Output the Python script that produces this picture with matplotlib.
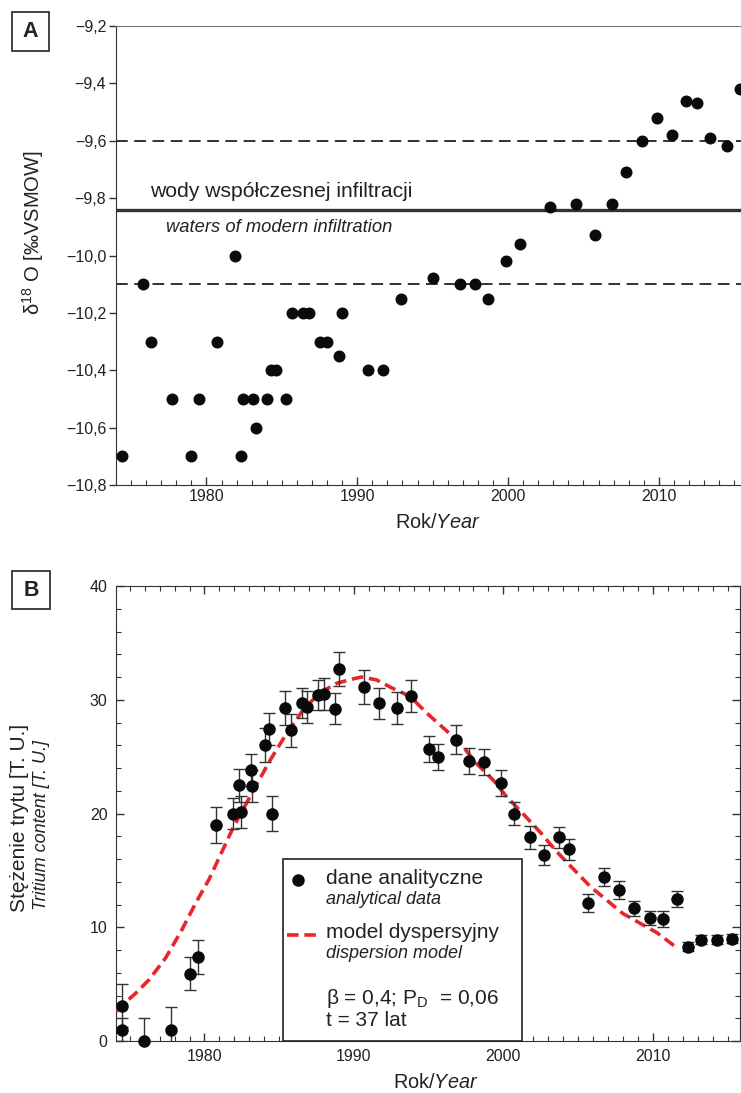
import matplotlib
matplotlib.use("Agg")
import matplotlib.pyplot as plt
from matplotlib.ticker import MultipleLocator, FuncFormatter
from matplotlib.patches import Rectangle
from matplotlib.lines import Line2D

plt.rcParams['font.family'] = ['Liberation Sans', 'DejaVu Sans']
plt.rcParams['mathtext.fontset'] = 'custom'
plt.rcParams['mathtext.rm'] = 'Liberation Sans'
plt.rcParams['mathtext.it'] = 'Liberation Sans:italic'
plt.rcParams['mathtext.bf'] = 'Liberation Sans:bold'

# ---------------- data: panel A (delta 18O) ----------------
a_years = [1974.4, 1975.8, 1976.3, 1977.7, 1979.0, 1979.5, 1980.7, 1981.9, 1982.3, 1982.4,
           1983.1, 1983.3, 1984.0, 1984.3, 1984.6, 1985.3, 1985.7, 1986.4, 1986.8, 1987.5,
           1988.0, 1988.8, 1989.0, 1990.7, 1991.7, 1992.9, 1995.0, 1996.8, 1997.8, 1998.7,
           1999.85, 2000.8, 2002.8, 2004.5, 2005.8, 2006.9, 2007.8, 2008.9, 2009.9, 2010.9,
           2011.8, 2012.5, 2013.4, 2014.5, 2015.4]
a_d18o = [-10.70, -10.10, -10.30, -10.50, -10.70, -10.50, -10.30, -10.00, -10.70, -10.50,
          -10.50, -10.60, -10.50, -10.40, -10.40, -10.50, -10.20, -10.20, -10.20, -10.30,
          -10.30, -10.35, -10.20, -10.40, -10.40, -10.15, -10.08, -10.10, -10.10, -10.15,
          -10.02, -9.96, -9.83, -9.82, -9.93, -9.82, -9.71, -9.60, -9.52, -9.58,
          -9.46, -9.47, -9.59, -9.62, -9.42]
a_band_upper = -9.6
a_modern = -9.84
a_band_lower = -10.1
a_yticks = [-10.8, -10.6, -10.4, -10.2, -10.0, -9.8, -9.6, -9.4, -9.2]

# ---------------- data: panel B (tritium) ----------------
b_years = [1974.45, 1974.45, 1975.95, 1977.75, 1979.0, 1979.55, 1980.75, 1981.9, 1982.3, 1982.45,
           1983.1, 1983.2, 1984.05, 1984.35, 1984.55, 1985.4, 1985.8, 1986.5, 1986.85, 1987.6,
           1988.0, 1988.75, 1989.0, 1990.65, 1991.7, 1992.9, 1993.85, 1995.0, 1995.65, 1996.8,
           1997.7, 1998.7, 1999.85, 2000.7, 2001.75, 2002.75, 2003.75, 2004.4, 2005.65, 2006.75,
           2007.75, 2008.75, 2009.8, 2010.7, 2011.65, 2012.35, 2013.2, 2014.3, 2015.3]
b_tritium = [3.1, 1.0, 0.0, 1.0, 5.9, 7.4, 19.0, 20.0, 22.5, 20.1,
             23.8, 22.4, 26.0, 27.4, 20.0, 29.3, 27.3, 29.7, 29.4, 30.4,
             30.5, 29.2, 32.7, 31.1, 29.7, 29.3, 30.3, 25.7, 25.0, 26.5,
             24.6, 24.5, 22.7, 20.0, 17.9, 16.35, 17.9, 16.85, 12.15, 14.45,
             13.3, 11.65, 10.8, 10.75, 12.5, 8.3, 8.9, 8.9, 9.0]
b_err = [1.9, 1.0, 2.0, 2.0, 1.45, 1.5, 1.6, 1.4, 1.45, 1.4,
         1.4, 1.4, 1.5, 1.4, 1.5, 1.5, 1.45, 1.3, 1.4, 1.3,
         1.4, 1.35, 1.5, 1.5, 1.35, 1.4, 1.4, 1.15, 1.15, 1.3,
         1.15, 1.15, 1.15, 1.0, 1.0, 0.9, 0.9, 0.9, 0.8, 0.8,
         0.8, 0.7, 0.6, 0.7, 0.7, 0.4, 0.4, 0.4, 0.4]
model_years = [1974.1, 1974.5, 1975.4, 1976.3, 1977.4, 1978.5, 1979.4, 1980.3, 1981.9, 1983.3,
               1984.4, 1985.5, 1986.6, 1987.7, 1988.85, 1990.0, 1990.5, 1991.5, 1992.6, 1993.75,
               1994.9, 1996.0, 1997.1, 1998.2, 1999.35, 2000.2, 2001.3, 2002.5, 2003.6, 2005.8,
               2008.0, 2010.3, 2011.5]
model_tritium = [2.6, 3.15, 4.2, 5.4, 7.3, 9.8, 12.1, 14.2, 18.7, 22.1,
                 24.7, 27.05, 29.1, 30.6, 31.45, 31.85, 32.0, 31.75, 31.0, 30.3,
                 28.8, 27.5, 26.2, 24.4, 22.9, 21.5, 20.0, 18.3, 16.6, 13.6,
                 11.2, 9.5, 8.3]

W, H, DPI = 741, 1093, 100
fig = plt.figure(figsize=(W / DPI, H / DPI), dpi=DPI)


def fx(x):
    return x / W


def fy(y):
    return 1 - y / H


def comma_fmt(v, pos):
    s = f'{v:.1f}'.replace('.', ',')
    return s.replace('-', '\u2212')


DARK = '#222222'
RED = '#e8262b'
TICK_FS = 11.5

# ======================= Panel A =======================
axA = fig.add_axes([fx(116), fy(485), fx(741) - fx(116), fy(26) - fy(485)])
axA.set_xlim(1974.0, 2015.45)
axA.set_ylim(-10.8, -9.2)
axA.axhline(a_band_upper, color=DARK, lw=1.3, dashes=(6.5, 3.6))
axA.axhline(a_band_lower, color=DARK, lw=1.3, dashes=(6.5, 3.6))
axA.axhline(a_modern, color='#333333', lw=2.4)
axA.plot(a_years, a_d18o, 'o', color='#0a0a0a', ms=7.6, mec='#0a0a0a', clip_on=False, zorder=5)

axA.spines['right'].set_visible(False)
axA.spines['top'].set_color('#777777')
axA.spines['left'].set_color('#333333')
axA.spines['bottom'].set_color('#333333')
axA.xaxis.set_major_locator(MultipleLocator(10))
axA.xaxis.set_minor_locator(MultipleLocator(1))
axA.set_yticks(a_yticks)
axA.yaxis.set_major_formatter(FuncFormatter(comma_fmt))
axA.tick_params(axis='x', which='major', direction='in', length=6, width=1, pad=3,
                labelsize=TICK_FS, colors='#333333', top=False)
axA.tick_params(axis='x', which='minor', direction='in', length=3.5, width=0.8,
                colors='#333333', top=False)
axA.tick_params(axis='y', which='major', direction='out', length=5, width=1, pad=2,
                labelsize=TICK_FS, colors='#333333')
for lab in axA.get_xticklabels() + axA.get_yticklabels():
    lab.set_color('#222222')

fig.text(fx(150), fy(197), 'wody współczesnej infiltracji', fontsize=15.2,
         color='#222222', ha='left', va='baseline')
fig.text(fx(166), fy(232), 'waters of modern infiltration', fontsize=13.2,
         style='italic', color='#222222', ha='left', va='baseline')
fig.text(fx(33), fy(233), 'δ$^{18}$ O [‰VSMOW]', rotation=90, fontsize=14.5,
         color='#222222', ha='center', va='center')
fig.text(fx(438), fy(523), r'Rok/$\mathit{Year}$', fontsize=14.3, color='#222222',
         ha='center', va='center')

# panel letter A
fig.add_artist(Rectangle((fx(12), fy(51)), fx(49) - fx(12), fy(12) - fy(51),
                         transform=fig.transFigure, fill=False, lw=1.3, ec='#333333'))
fig.text(fx(30.5), fy(31.5), 'A', fontsize=15.5, fontweight='bold', color='#222222',
         ha='center', va='center')

# ======================= Panel B =======================
axB = fig.add_axes([fx(116), fy(1041), fx(739.5) - fx(116), fy(586) - fy(1041)])
axB.set_xlim(1974.08, 2015.8)
axB.set_ylim(0, 40)
axB.plot(model_years, model_tritium, color=RED, lw=2.6, dashes=(3.2, 1.6),
         dash_capstyle='butt', zorder=3)
axB.errorbar(b_years, b_tritium, yerr=b_err, fmt='none', ecolor='#333333',
             elinewidth=1.0, capsize=4.3, capthick=1.0, zorder=4)
axB.plot(b_years, b_tritium, 'o', color='#0a0a0a', ms=8, mec='#0a0a0a',
         clip_on=False, zorder=6)

for sp in axB.spines.values():
    sp.set_color('#333333')
axB.xaxis.set_major_locator(MultipleLocator(10))
axB.xaxis.set_minor_locator(MultipleLocator(1))
axB.yaxis.set_major_locator(MultipleLocator(10))
axB.yaxis.set_minor_locator(MultipleLocator(2))
axB.tick_params(axis='both', which='major', direction='in', length=6, width=1,
                labelsize=TICK_FS, colors='#333333', top=True, right=True)
axB.tick_params(axis='both', which='minor', direction='in', length=3.5, width=0.8,
                colors='#333333', top=True, right=True)
axB.tick_params(axis='x', which='major', pad=6)
axB.tick_params(axis='y', which='major', pad=6)
for lab in axB.get_xticklabels() + axB.get_yticklabels():
    lab.set_color('#222222')

fig.text(fx(20), fy(818), 'Stężenie trytu [T. U.]', rotation=90, fontsize=15,
         color='#222222', ha='center', va='center')
fig.text(fx(42), fy(825), 'Tritium content [T. U.]', rotation=90, fontsize=13,
         style='italic', color='#222222', ha='center', va='center')
fig.text(fx(436), fy(1082), r'Rok/$\mathit{Year}$', fontsize=14.3, color='#222222',
         ha='center', va='center')

# panel letter B
fig.add_artist(Rectangle((fx(12), fy(609)), fx(50) - fx(12), fy(571) - fy(609),
                         transform=fig.transFigure, fill=False, lw=1.3, ec='#333333'))
fig.text(fx(31), fy(590), 'B', fontsize=15.5, fontweight='bold', color='#222222',
         ha='center', va='center')

# legend box (panel B)
fig.add_artist(Rectangle((fx(283), fy(1041)), fx(522) - fx(283), fy(859) - fy(1041),
                         transform=fig.transFigure, facecolor='white', lw=1.2,
                         ec='#222222', zorder=10))
fig.add_artist(Line2D([fx(298)], [fy(880)], marker='o', ms=8, color='#0a0a0a',
                      transform=fig.transFigure, zorder=11))
fig.add_artist(Line2D([fx(287), fx(316)], [fy(935), fy(935)], color=RED, lw=2.6,
                      dashes=(3.2, 1.6), transform=fig.transFigure, zorder=11))
tx = fx(326)
fig.text(tx, fy(878), 'dane analityczne', fontsize=15, color='#222222', va='center', zorder=12)
fig.text(tx, fy(900), 'analytical data', fontsize=13, style='italic', color='#222222',
         va='center', zorder=12)
fig.text(tx, fy(932), 'model dyspersyjny', fontsize=15, color='#222222', va='center', zorder=12)
fig.text(tx, fy(954), 'dispersion model', fontsize=13, style='italic', color='#222222',
         va='center', zorder=12)
fig.text(tx, fy(998), r'β = 0,4; P$_{\mathrm{D}}$  = 0,06', fontsize=15, color='#222222',
         va='center', zorder=12)
fig.text(tx, fy(1021), 't = 37 lat', fontsize=15, color='#222222', va='center', zorder=12)

fig.savefig('out.png', dpi=DPI)
